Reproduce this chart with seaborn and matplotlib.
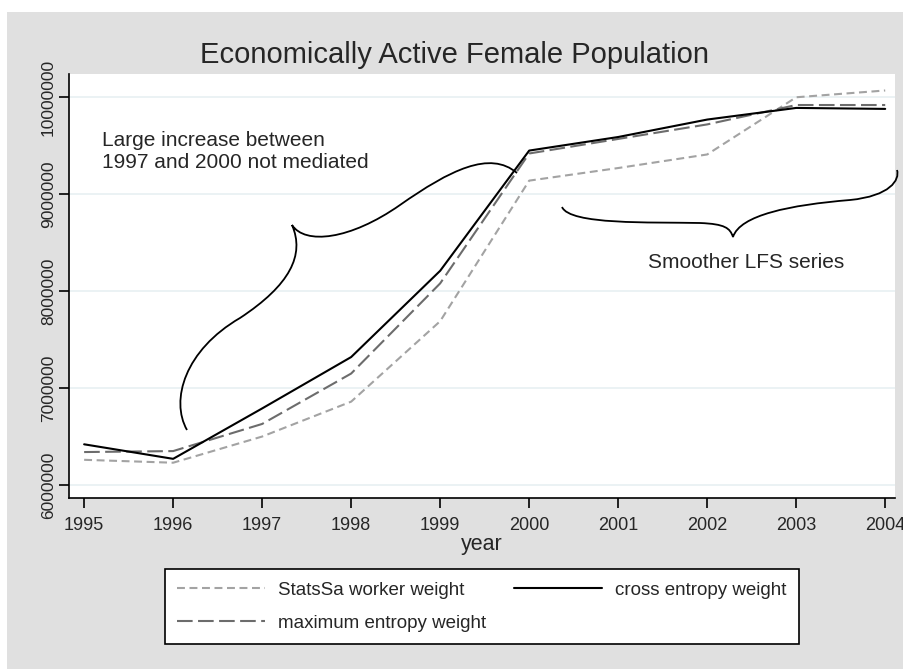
import numpy as np
import pandas as pd
import seaborn as sns
import matplotlib.pyplot as plt
from matplotlib.path import Path
from matplotlib.patches import PathPatch, Rectangle

# valores
anos = [1995, 1996, 1997, 1998, 1999, 2000, 2001, 2002, 2003, 2004]
statssa = [6260000, 6230000, 6500000, 6860000, 7690000, 9140000, 9270000, 9410000, 10000000, 10070000]
max_entropia = [6340000, 6350000, 6630000, 7150000, 8080000, 9420000, 9570000, 9720000, 9920000, 9920000]
cross_entropia = [6420000, 6270000, 6790000, 7320000, 8210000, 9450000, 9590000, 9770000, 9890000, 9880000]

nomes = ['StatsSa worker weight', 'maximum entropy weight', 'cross entropy weight']
yticks = [6000000, 7000000, 8000000, 9000000, 10000000]

dados = pd.DataFrame({'year': anos * 3,
                      'value': statssa + max_entropia + cross_entropia,
                      'serie': [nomes[0]] * 10 + [nomes[1]] * 10 + [nomes[2]] * 10})

sns.set_style("white")
plt.rcParams['font.family'] = ['Liberation Sans', 'DejaVu Sans']

W, H = 904, 669
f = plt.figure(figsize=(W / 100, H / 100), dpi=100, facecolor='white')
# fundo cinza com margem branca em cima e à esquerda
f.add_artist(Rectangle((7 / W, -0.01), 1, 1.01 - 12 / H, transform=f.transFigure,
                       facecolor='#e0e0e0', edgecolor='none', zorder=-10))

ax = f.add_axes([69 / W, 1 - 498 / H, (895 - 69) / W, (498 - 74) / H])
ax.set_facecolor('white')

cores = {nomes[0]: '#a3a3a3', nomes[1]: '#6c6c6c', nomes[2]: 'black'}
tracos = {nomes[0]: (3.8, 2.2), nomes[1]: (7.5, 2.6), nomes[2]: ''}
sns.lineplot(data=dados, x='year', y='value', hue='serie', style='serie',
             palette=cores, dashes=tracos, linewidth=1.5, ax=ax, legend=False)

# eixos
ax.set_xlim(1994.83, 2004.11)
ax.set_ylim(5866000, 10240000)
ax.set_xticks(anos)
ax.set_xticklabels([str(a) for a in anos], fontsize=13)
ax.set_yticks(yticks)
ax.set_yticklabels([str(v) for v in yticks], fontsize=12.5, rotation=90, va='center')
ax.grid(axis='y', color='#e8f0f2', linewidth=1.2)
ax.grid(axis='x', visible=False)
for s in ['top', 'right']:
    ax.spines[s].set_visible(False)
for s in ['left', 'bottom']:
    ax.spines[s].set_color('black')
    ax.spines[s].set_linewidth(1.2)
ax.tick_params(axis='both', direction='out', length=7.5, width=1.2, color='black',
               bottom=True, left=True, pad=2)
ax.tick_params(axis='x', pad=6)
ax.set_xlabel('year', fontsize=15.5, labelpad=0)
ax.set_ylabel('')

f.text(455 / W, 1 - 55 / H, 'Economically Active Female Population', ha='center', va='center', fontsize=21)


def px(x, y):
    return (x / W, 1 - y / H)


# chaves desenhadas à mão
def chave(pontos, codigos):
    caminho = Path([px(*p) for p in pontos], codigos)
    f.add_artist(PathPatch(caminho, fill=False, lw=1.3, color='black', transform=f.transFigure))


M, C = Path.MOVETO, Path.CURVE4
chave([(187, 430), (170, 400), (185, 350), (240, 318), (290, 285), (305, 255), (292, 225),
       (305, 245), (350, 240), (400, 205), (450, 170), (490, 150), (517, 173)],
      [M, C, C, C, C, C, C, C, C, C, C, C, C])
chave([(562, 207), (570, 225), (650, 222), (700, 223), (725, 224), (730, 228), (733, 237),
       (740, 215), (790, 205), (850, 200), (890, 196), (900, 180), (897, 170)],
      [M, C, C, C, C, C, C, C, C, C, C, C, C])

f.text(*px(102, 151), 'Large increase between\n1997 and 2000 not mediated', fontsize=15,
       ha='left', va='center', linespacing=1.2)
f.text(*px(746, 262), 'Smoother LFS series', fontsize=15, ha='center', va='center')

# legenda
handles = ax.get_lines()[:3]
leg = f.legend(handles, nomes, ncol=2, loc='lower left',
               bbox_to_anchor=(165 / W, 1 - 644 / H, (799 - 165) / W, (644 - 569) / H),
               mode='expand', fontsize=13.5, frameon=True, fancybox=False, framealpha=1,
               handlelength=4.7, handletextpad=0.7, borderpad=0.65, labelspacing=0.85,
               columnspacing=2.5, borderaxespad=0)
leg.get_frame().set_edgecolor('black')
leg.get_frame().set_linewidth(1.2)
leg.get_frame().set_facecolor('white')

plt.savefig('out.png', dpi=100, facecolor=f.get_facecolor())
